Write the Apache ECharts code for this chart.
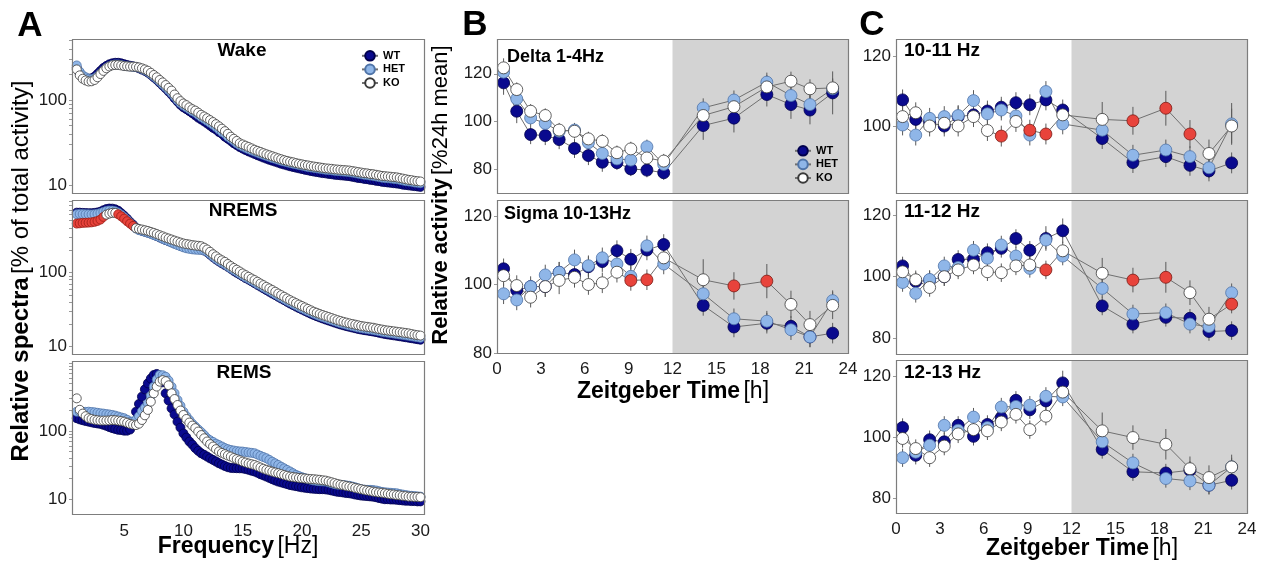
<!DOCTYPE html>
<html>
<head>
<meta charset="utf-8">
<script src="https://cdn.jsdelivr.net/npm/echarts@6/dist/echarts.min.js"></script>
<style>
html, body { margin: 0; padding: 0; background: #fff; }
#main { width: 1265px; height: 569px; }
</style>
</head>
<body>
<div id="main"></div>
<script>
var chart = echarts.init(document.getElementById('main'));
var FONT = '"Liberation Sans", Arial, sans-serif';

// colours per genotype
var groups = ['WT', 'HET', 'KO'];
var fillCol = { WT: '#0a0a8e', HET: '#8fb6e8', KO: '#ffffff' };
var edgeCol = { WT: '#00004d', HET: '#4f74a8', KO: '#3a3a3a' };
var sigRed = '#e8433b';

// ---------- A: spectra, 1-30 Hz in 0.25 Hz bins ----------
var freqHz = [];
for (var i = 0; i <= 116; i++) freqHz.push(1 + i * 0.25);
var freqTicks = [5, 10, 15, 20, 25, 30];

var wakeWT = [
  240,205,190,182, 178,180,188,203, 220,238,252,263, 270,274,274,270,
  264,258,253,249, 244,236,228,220, 210,198,185,173, 160,148,137,126,
  116,105,96,88, 82,78,74,70, 66,62,59,56, 53,50,47,45,
  42,40,37,35, 33,31,29.5,28, 26.8,25.8,24.8,24, 23.2,22.4,21.7,21,
  20.4,19.8,19.3,18.8, 18.3,17.8,17.4,17, 16.6,16.3,16,15.7, 15.4,15.1,14.9,14.6,
  14.4,14.2,14,13.8, 13.7,13.5,13.4,13.2, 13.1,13,12.9,12.8, 12.7,12.5,12.3,12.1,
  12,11.8,11.7,11.5, 11.4,11.2,11.1,10.9, 10.8,10.7,10.6,10.5, 10.4,10.3,10.1,10,
  9.9,9.8,9.7,9.6, 9.5
];
var wakeHET = [
  255,215,195,185, 178,176,180,190, 205,222,238,250, 258,262,262,258,
  253,250,248,246, 244,239,232,224, 214,202,190,177, 165,153,142,131,
  121,110,100,92, 86,82,78,74, 71,67,63,60, 57,54,51,48,
  45,42,40,37, 35,33,31,29.5, 28.3,27.3,26.4,25.5, 24.7,24,23.3,22.6,
  22,21.4,20.8,20.3, 19.8,19.3,18.9,18.5, 18.1,17.8,17.5,17.2, 16.9,16.6,16.3,16.1,
  15.9,15.7,15.5,15.3, 15.1,15,14.9,14.7, 14.6,14.5,14.4,14.3, 14.2,14,13.8,13.6,
  13.4,13.2,13.1,12.9, 12.8,12.6,12.4,12.2, 12.1,12,11.9,11.8, 11.7,11.5,11.3,11.1,
  11,10.9,10.7,10.6, 10.5
];
var wakeKO = [
  229,195,178,170, 165,166,172,185, 202,220,236,248, 256,258,258,255,
  251,249,247,247, 246,242,236,229, 221,209,197,185, 172,161,150,139,
  129,116,105,97, 91,87,82,78, 75,71,67,64, 61,58,55,52,
  49,46,43,40, 37,35,33,31, 30,29,28,27, 26,25.2,24.5,23.7,
  23,22.4,21.8,21.2, 20.6,20.1,19.6,19.2, 18.8,18.5,18.1,17.8, 17.5,17.2,17,16.7,
  16.5,16.3,16.1,15.9, 15.7,15.6,15.5,15.3, 15.2,15.1,15,14.9, 14.8,14.6,14.4,14.2,
  14,13.8,13.7,13.5, 13.4,13.2,13,12.8, 12.7,12.6,12.5,12.4, 12.3,12.1,11.9,11.7,
  11.5,11.4,11.2,11.1, 11
];

var nremWT = [
  640,640,635,632, 630,630,635,645, 660,690,715,727, 725,710,680,630,
  580,530,480,440, 400,378,365,355, 345,334,322,310, 297,285,274,264,
  255,246,238,230, 223,218,214,211, 208,206,204,198, 188,174,161,150,
  141,133,126,119, 112,105,99,94, 89,84,80,76, 72,68,64.5,61,
  58,55,52,49.5, 47,44.6,42.4,40.2, 38.2,36.4,34.7,33.1, 31.7,30.3,29,27.8,
  26.7,25.7,24.8,24, 23.2,22.5,21.8,21.1, 20.5,19.9,19.4,18.9, 18.5,18.1,17.7,17.3,
  17,16.7,16.5,16.2, 16,15.7,15.4,15.1, 14.8,14.6,14.4,14.2, 14,13.8,13.6,13.4,
  13.2,13,12.8,12.6, 12.4
];
var nremHET = [
  610,615,612,610, 608,606,610,618, 632,655,675,685, 682,668,640,600,
  555,510,465,425, 392,372,362,352, 342,332,320,309, 297,285,274,263,
  253,243,234,226, 218,212,208,205, 203,202,202,198, 190,177,164,153,
  144,136,129,121, 114,108,102,96, 91,86,82,78, 74,70,66.5,63,
  60,57,54,51, 48.5,46,43.8,41.6, 39.6,37.7,36,34.4, 32.9,31.5,30.2,29,
  27.8,26.8,25.9,25.1, 24.3,23.5,22.8,22.1, 21.4,20.8,20.3,19.8, 19.3,18.9,18.5,18.1,
  17.8,17.5,17.3,17, 16.8,16.5,16.2,15.9, 15.6,15.4,15.2,15, 14.8,14.6,14.4,14.2,
  14,13.8,13.6,13.4, 13.2
];
var nremKO = [
  456,460,466,468, 470,474,481,495, 516,561,602,622, 635,635,609,572,
  532,490,456,424, 395,386,379,371, 363,352,342,330, 318,307,296,287,
  278,269,261,253, 246,242,238,234, 231,229,226,216, 204,190,176,165,
  154,146,139,130, 122,115,109,103, 97,92,87.5,83, 79,75,71,67.5,
  64,61,58,55, 52,49.5,47,44.6, 42.4,40.5,38.6,36.9, 35.3,33.8,32.3,30.9,
  29.6,28.6,27.6,26.7, 25.9,25.1,24.3,23.5, 22.8,22.2,21.6,21.1, 20.6,20.2,19.8,19.4,
  19,18.7,18.5,18.2, 18,17.6,17.3,17, 16.7,16.5,16.3,16.1, 15.9,15.7,15.5,15.3,
  15.1,14.8,14.5,14.3, 14.1
];
// frequency ranges where KO differs (red)
var nremKOsig = [[1, 3.25], [4.5, 5.75]];

var remWT = [
  154,148,144,140, 137,134,131,129, 127,123,119,114, 110,107,104,103,
  101,101,105,130, 192,250,320,410, 502,590,666,690, 650,520,358,280,
  215,175,137,112, 92,80,70,63, 56,51,47,44.5, 42,39.5,37.5,35.5,
  33.5,32,30.5,29.3, 28.6,28.4,28.3,28.2, 28.1,27.5,26.8,26, 25.3,24.3,23.1,22.2,
  21.3,20.4,19.5,18.7, 18,17.5,17,16.5, 16,15.7,15.4,15.1, 14.8,14.6,14.4,14.2,
  14.1,14,13.9,13.9, 13.8,13.6,13.3,13, 12.7,12.6,12.4,12.2, 12.1,11.9,11.6,11.4,
  11.2,11.1,11,10.9, 10.8,10.6,10.3,10.1, 9.9,9.9,9.8,9.8, 9.7,9.6,9.5,9.4,
  9.4,9.3,9.3,9.2, 9.2
];
var remHET = [
  192,193,192,191, 192,190,188,185, 182,180,177,175, 172,168,163,158,
  154,146,137,138, 145,165,195,220, 255,330,448,570, 666,660,628,550,
  448,360,286,235, 192,165,145,128, 116,105,96,87, 78,73,69,65,
  62,59,56,54, 52.5,51.5,50.5,50, 49.7,49,48.3,47.6, 47,45,43,41.3,
  39.7,37.5,35.3,33.4, 31.6,29.8,28.2,26.7, 25.3,23.9,22.6,21.7, 20.9,20.2,19.6,19.1,
  18.7,18.4,18.2,18.1, 18,17.5,17,16.5, 16.2,16.1,16,15.8, 15.6,15.2,14.8,14.3,
  13.9,13.7,13.6,13.6, 13.5,13.3,13,12.7, 12.5,12.4,12.3,12.2, 12.1,11.8,11.6,11.4,
  11.2,11.1,11,10.9, 10.8
];
var remKO = [
  302,205,180,165, 154,150,146,144, 142,142,142,143, 145,144,142,140,
  137,132,127,124, 122,128,145,170, 204,270,358,450, 531,560,540,470,
  358,295,241,200, 172,150,133,120, 110,98,87,78, 70,64,59,54,
  50,47.5,45.5,43.5, 42,40,38.5,37, 35.4,34.3,33.2,32.4, 31.6,30.3,29,27.8,
  26.8,26,25.2,24.5, 23.9,23.2,22.5,21.9, 21.3,21,20.7,20.4, 20.2,20,19.8,19.6,
  19.5,19.3,19.1,18.8, 18.6,18.1,17.6,17.1, 16.6,16.2,15.9,15.5, 15.2,14.9,14.5,14.2,
  13.9,13.6,13.3,13.1, 12.8,12.6,12.4,12.3, 12.1,11.9,11.7,11.6, 11.4,11.3,11.1,11,
  10.8,10.8,10.7,10.7, 10.6
];

// ---------- B / C: time course over zeitgeber time ----------
var zt = [0.45, 1.35, 2.3, 3.3, 4.25, 5.3, 6.25, 7.2, 8.2, 9.15, 10.25, 11.4,
          14.1, 16.2, 18.45, 20.1, 21.4, 22.95];
var ztTicks = [0, 3, 6, 9, 12, 15, 18, 21, 24];

var deltaWT  = [116.2,104.3,94.5,94.1,92.4,88.7,85.7,82.9,82.7,80.1,79.6,78.5, 98.3,101.4,111.3,107.1,104.8,112.0];
var deltaHET = [120.7,109.5,101.5,99.2,95.9,96.4,91.1,86.6,84.3,83.8,89.4,82.0, 105.7,109.0,116.5,110.9,107.1,113.7];
var deltaKO  = [122.5,113.4,104.3,102.5,96.4,95.9,92.7,91.7,86.9,88.5,84.7,83.4, 102.5,106.2,114.5,116.9,113.7,114.1];
var deltaWTerr  = [5,5,4,4,4,4,4,4,3,3,3,3, 6,6,5,6,6,9];
var deltaHETerr = [4,3,3,3,3,3,3,3,3,3,3,3, 4,4,4,4,4,4];
var deltaKOerr  = [4,3,3,3,3,3,3,3,3,3,3,3, 4,4,5,4,4,4];

var sigmaWT  = [104.6,98.3,99.4,99.4,103.6,102.9,105.2,106.7,109.9,107.4,110.1,111.7, 93.9,87.6,88.7,87.8,84.7,85.8];
var sigmaHET = [97.3,95.5,99.4,102.8,103.6,107.2,105.5,107.8,106.0,102.4,111.3,106.0, 97.3,90.0,89.3,86.8,84.7,95.3];
var sigmaKO  = [102.6,99.7,96.3,99.4,101.2,102.1,100.0,100.5,103.6,101.2,101.4,107.8, 101.4,99.6,101.0,94.2,88.3,93.9];
var sigmaWTerr  = [3,3,3,3,3,3,3,3,3,3,3,3, 3,3,3,3,3,3];
var sigmaHETerr = [3,3,2,3,3,3,3,3,3,3,3,3, 3,3,3,3,3,3];
var sigmaKOerr  = [3,3,3,3,4,3,3,3,3,3,3,3, 6,4,5,4,4,4];
var sigmaKOsig  = [9, 10, 13, 14];

var c1WT  = [107.5,101.9,101.0,100.0,102.7,103.2,104.3,105.4,106.7,106.1,107.5,104.6, 96.4,89.5,91.2,88.7,87.1,89.4];
var c1HET = [100.3,97.4,102.2,102.7,103.0,107.3,103.5,104.6,102.9,97.4,109.9,100.6, 98.8,91.6,93.1,91.2,88.0,100.6];
var c1KO  = [102.7,103.8,100.0,100.8,100.0,102.7,98.7,97.1,101.3,98.8,97.7,103.2, 101.9,101.5,105.1,97.7,92.1,100.0];
var c1WTerr  = [3,3,3,3,3,3,3,3,3,3,3,3, 3,3,3,3,3,3];
var c1HETerr = [3,3,3,3,3,3,3,3,3,3,3,3, 3,3,3,3,3,6];
var c1KOerr  = [3,3,3,3,3,3,3,3,3,3,3,3, 5,4,5,4,4,5];
var c1KOsig  = [7, 9, 10, 13, 14, 15];

var c2WT  = [103.5,98.4,98.9,100.0,105.6,105.6,107.8,109.2,112.4,108.6,112.4,114.9, 90.5,84.6,86.8,86.5,82.2,82.5];
var c2HET = [98.1,94.6,99.1,103.5,103.0,108.6,106.0,110.3,106.7,102.7,111.9,106.7, 96.2,87.9,88.3,84.6,83.8,94.8];
var c2KO  = [101.6,99.0,96.5,100.0,102.2,103.8,101.6,101.3,103.5,103.8,102.2,108.4, 101.1,98.9,99.8,94.8,86.2,91.1];
var c2WTerr  = [3,3,3,3,3,3,3,3,3,3,4,4, 3,3,3,3,3,3];
var c2HETerr = [3,3,3,3,3,3,3,3,3,3,3,3, 3,3,3,3,3,3];
var c2KOerr  = [3,3,3,3,3,3,3,3,3,3,3,3, 5,4,5,4,4,3];
var c2KOsig  = [10, 13, 14, 17];

var c3WT  = [103.1,94.0,99.1,98.4,103.8,100.2,104.1,106.3,112.0,108.9,111.8,117.7, 95.9,88.6,88.2,89.1,84.2,85.8];
var c3HET = [93.2,95.0,97.3,103.8,102.2,106.5,103.1,109.8,110.0,110.4,113.3,113.1, 98.4,91.5,86.4,85.6,84.2,90.2];
var c3KO  = [99.5,96.2,93.2,97.0,101.0,102.4,102.0,104.9,107.4,102.4,106.8,114.7, 102.0,99.8,97.6,89.6,86.7,90.2];
var c3WTerr  = [3,3,3,3,3,3,3,3,3,3,3,4, 3,3,3,3,3,3];
var c3HETerr = [3,3,3,3,3,3,3,3,3,3,3,3, 3,3,3,3,3,3];
var c3KOerr  = [3,3,3,3,3,3,3,3,3,3,3,3, 6,4,5,4,4,4];

// ---------- layout (px boxes: left, top, width, height) ----------
var boxes = [
  [72, 39, 352, 154],   // 0 wake
  [72, 200, 352, 154],  // 1 nrem
  [72, 361, 352, 153],  // 2 rem
  [497, 39, 351, 154],  // 3 delta
  [497, 200, 351, 153], // 4 sigma
  [896, 39, 351, 154],  // 5 10-11
  [896, 200, 351, 154], // 6 11-12
  [896, 360, 351, 153]  // 7 12-13
];
var logRange = [[8.05, 522], [7.96, 948], [6.0, 1070]];
var linRange = [[70, 134.6], [80, 124.7], [80.75, 125], [74.9, 124.9], [75.1, 125.2]];
var linLabels = [[80, 100, 120], [80, 100, 120], [100, 120], [80, 100, 120], [80, 100, 120]];
var logMinor = [10,20,30,40,50,60,70,80,90,100,200,300,400,500,600,700,800,900,1000];

var grids = boxes.map(function (b) {
  return { left: b[0], top: b[1], width: b[2], height: b[3], containLabel: false };
});

var labelStyle = { fontSize: 17, color: '#1a1a1a', fontFamily: FONT };
var xAxes = [], yAxes = [];
boxes.forEach(function (b, g) {
  if (g < 3) {
    xAxes.push({
      gridIndex: g, type: 'value', min: 0.6, max: 30.3,
      axisLine: { show: false }, axisTick: { show: false }, splitLine: { show: false },
      axisLabel: Object.assign({ show: g === 2, customValues: freqTicks, margin: 9 }, labelStyle)
    });
    yAxes.push({
      gridIndex: g, type: 'log', logBase: 10, min: logRange[g][0], max: logRange[g][1],
      axisLine: { show: false }, splitLine: { show: false },
      axisTick: {
        show: true, length: 3, lineStyle: { color: '#999' },
        customValues: logMinor.filter(function (v) { return v >= logRange[g][0] && v <= logRange[g][1]; })
      },
      axisLabel: Object.assign({
        margin: 5,
        formatter: function (v) { var r = Math.round(v); return (r === 10 || r === 100) ? String(r) : ''; }
      }, labelStyle)
    });
  } else {
    var k = g - 3;
    xAxes.push({
      gridIndex: g, type: 'value', min: 0, max: 24, interval: 3,
      axisLine: { show: false }, axisTick: { show: false }, splitLine: { show: false },
      axisLabel: Object.assign({ show: g === 4 || g === 7, customValues: ztTicks, margin: 8 }, labelStyle)
    });
    yAxes.push({
      gridIndex: g, type: 'value', min: linRange[k][0], max: linRange[k][1],
      axisLine: { show: false }, splitLine: { show: false },
      axisTick: { show: true, length: 3, lineStyle: { color: '#999' }, customValues: linLabels[k] },
      axisLabel: Object.assign({ margin: 5, customValues: linLabels[k] }, labelStyle)
    });
  }
});

// ---------- series builders ----------
function errBar(params, api) {
  var p1 = api.coord([api.value(0), api.value(1)]);
  var p2 = api.coord([api.value(0), api.value(2)]);
  return {
    type: 'line',
    shape: { x1: p1[0], y1: p1[1], x2: p2[0], y2: p2[1] },
    style: { stroke: '#5a5a5a', lineWidth: 1 }
  };
}

var series = [];

function timeGroup(g, name, vals, errs, sig) {
  series.push({
    type: 'custom', xAxisIndex: g, yAxisIndex: g, renderItem: errBar, silent: true, z: 2,
    encode: { x: 0, y: [1, 2] },
    data: vals.map(function (v, i) { return [zt[i], v - errs[i], v + errs[i]]; })
  });
  series.push({
    name: name, type: 'line', xAxisIndex: g, yAxisIndex: g, z: 3,
    symbol: 'circle', symbolSize: 12, showSymbol: true,
    lineStyle: { color: '#707070', width: 1 },
    itemStyle: { color: fillCol[name], borderColor: edgeCol[name], borderWidth: 0.8 },
    emphasis: { disabled: true },
    data: vals.map(function (v, i) {
      if (sig && sig.indexOf(i) >= 0) {
        return { value: [zt[i], v], itemStyle: { color: sigRed, borderColor: '#7a1a14' } };
      }
      return [zt[i], v];
    })
  });
}

function darkPhase(g) {
  series.push({
    type: 'line', xAxisIndex: g, yAxisIndex: g, data: [], z: 0, silent: true,
    markArea: { silent: true, itemStyle: { color: '#d3d3d3' }, data: [[{ xAxis: 12 }, { xAxis: 24 }]] }
  });
}

function timePanel(g, wt, het, ko, wtE, hetE, koE, koSig) {
  darkPhase(g);
  timeGroup(g, 'WT', wt, wtE);
  timeGroup(g, 'HET', het, hetE);
  timeGroup(g, 'KO', ko, koE, koSig);
}

function specGroup(g, name, vals, sigRanges) {
  series.push({
    name: name, type: 'scatter', xAxisIndex: g, yAxisIndex: g, z: 3,
    symbol: 'circle', symbolSize: 9,
    itemStyle: { color: fillCol[name], borderColor: edgeCol[name], borderWidth: 0.8, opacity: 1 },
    emphasis: { disabled: true },
    data: vals.map(function (v, i) {
      var f = freqHz[i];
      var red = sigRanges && sigRanges.some(function (r) { return f >= r[0] && f <= r[1]; });
      if (red) return { value: [f, v], itemStyle: { color: sigRed, borderColor: '#9a1d16' } };
      return [f, v];
    })
  });
}

// B / C first so the legends pick up the line + marker icons
timePanel(3, deltaWT, deltaHET, deltaKO, deltaWTerr, deltaHETerr, deltaKOerr, null);
timePanel(4, sigmaWT, sigmaHET, sigmaKO, sigmaWTerr, sigmaHETerr, sigmaKOerr, sigmaKOsig);
timePanel(5, c1WT, c1HET, c1KO, c1WTerr, c1HETerr, c1KOerr, c1KOsig);
timePanel(6, c2WT, c2HET, c2KO, c2WTerr, c2HETerr, c2KOerr, c2KOsig);
timePanel(7, c3WT, c3HET, c3KO, c3WTerr, c3HETerr, c3KOerr, null);

specGroup(0, 'WT', wakeWT); specGroup(0, 'HET', wakeHET); specGroup(0, 'KO', wakeKO);
specGroup(1, 'WT', nremWT); specGroup(1, 'HET', nremHET); specGroup(1, 'KO', nremKO, nremKOsig);
specGroup(2, 'WT', remWT); specGroup(2, 'HET', remHET); specGroup(2, 'KO', remKO);

// ---------- texts and frames ----------
function txt(x, y, text, size, bold, align) {
  return {
    type: 'text', x: x, y: y, silent: true, z: 110,
    style: {
      text: text, fontSize: size, fontWeight: bold ? 'bold' : 'normal', fontFamily: FONT, fill: '#000',
      textAlign: align || 'center', align: align || 'center',
      textVerticalAlign: 'middle', verticalAlign: 'middle'
    }
  };
}
function richTxt(x, y, bold, normal, size, rot) {
  return {
    type: 'text', x: x, y: y, rotation: rot || 0, silent: true, z: 110,
    style: {
      text: '{b|' + bold + '} {n|' + normal + '}',
      rich: {
        b: { fontSize: size, fontWeight: 'bold', fontFamily: FONT, fill: '#000' },
        n: { fontSize: size, fontFamily: FONT, fill: '#000' }
      },
      textAlign: 'center', align: 'center', textVerticalAlign: 'middle', verticalAlign: 'middle'
    }
  };
}

var graphics = boxes.map(function (b) {
  return {
    type: 'rect', silent: true, z: 100,
    shape: { x: b[0] + 0.5, y: b[1] + 0.5, width: b[2], height: b[3] },
    style: { fill: 'none', stroke: '#7d7d7d', lineWidth: 1.2 }
  };
});
graphics.push(
  txt(30, 26, 'A', 35, true), txt(475, 25, 'B', 35, true), txt(872, 25, 'C', 35, true),
  txt(242, 51, 'Wake', 19, true), txt(243, 211, 'NREMS', 19, true), txt(244, 373, 'REMS', 19, true),
  txt(507, 57, 'Delta 1-4Hz', 18, true, 'left'), txt(504, 214, 'Sigma 10-13Hz', 18, true, 'left'),
  txt(904, 51, '10-11 Hz', 19, true, 'left'), txt(904, 212, '11-12 Hz', 19, true, 'left'),
  txt(904, 373, '12-13 Hz', 19, true, 'left'),
  richTxt(238, 547, 'Frequency', '[Hz]', 23),
  richTxt(673, 392, 'Zeitgeber Time', '[h]', 23),
  richTxt(1082, 549, 'Zeitgeber Time', '[h]', 23),
  richTxt(21, 271, 'Relative spectra', '[% of total activity]', 24, Math.PI / 2),
  richTxt(441, 195, 'Relative activity', '[%24h mean]', 22, Math.PI / 2)
);

var legendBase = {
  data: groups, orient: 'vertical', itemGap: 2, itemWidth: 16, itemHeight: 12,
  selectedMode: false,
  textStyle: { fontSize: 11, fontWeight: 'bold', fontFamily: FONT, color: '#000' }
};

chart.setOption({
  animation: false,
  backgroundColor: '#fff',
  grid: grids,
  xAxis: xAxes,
  yAxis: yAxes,
  legend: [
    Object.assign({ left: 356, top: 45 }, legendBase),
    Object.assign({ left: 789, top: 140 }, legendBase)
  ],
  graphic: graphics,
  series: series
});
</script>
</body>
</html>
